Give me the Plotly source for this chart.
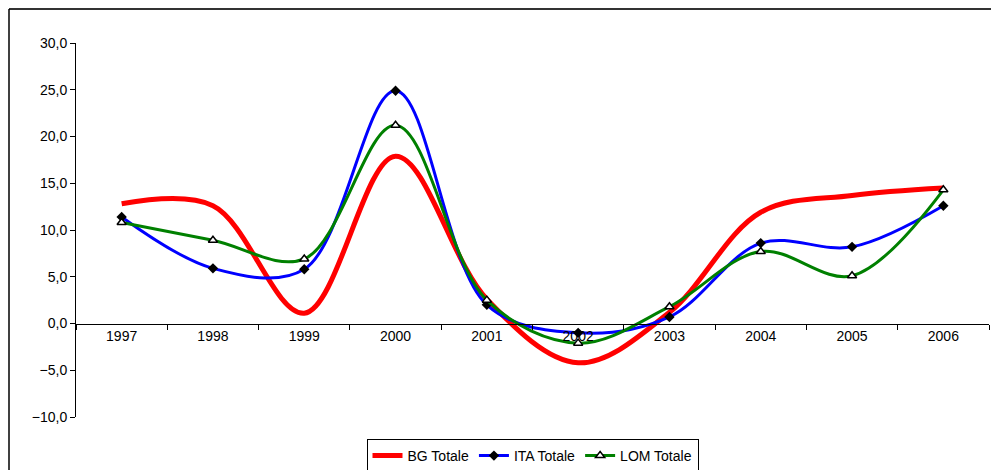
import plotly.graph_objects as go

years = ["1997", "1998", "1999", "2000", "2001", "2002", "2003", "2004", "2005", "2006"]
bg_totale = [12.8, 12.6, 1.1, 17.9, 2.6, -4.2, 1.2, 11.9, 13.7, 14.5]
ita_totale = [11.4, 5.9, 5.8, 24.9, 2.0, -1.0, 0.7, 8.6, 8.2, 12.6]
lom_totale = [10.8, 8.9, 6.9, 21.2, 2.5, -2.1, 1.8, 7.7, 5.1, 14.3]
y_ticks = [-10, -5, 0, 5, 10, 15, 20, 25, 30]

font_family = "Liberation Sans, Arial, sans-serif"

fig = go.Figure()
fig.add_trace(go.Scatter(
    x=years, y=bg_totale, name="BG Totale", mode="lines",
    line=dict(color="#ff0000", width=5, shape="spline", smoothing=1.0),
))
fig.add_trace(go.Scatter(
    x=years, y=ita_totale, name="ITA Totale", mode="lines+markers",
    line=dict(color="#0000ff", width=3, shape="spline", smoothing=1.0),
    marker=dict(symbol="diamond", size=8, color="#000000"),
))
fig.add_trace(go.Scatter(
    x=years, y=lom_totale, name="LOM Totale", mode="lines+markers",
    line=dict(color="#008000", width=3, shape="spline", smoothing=1.0),
    marker=dict(symbol="triangle-up", size=8, color="#ffffff",
                line=dict(color="#000000", width=1.5)),
))

# figure is drawn with an 8px page offset, so size it to the remaining window
W, H = 991, 462
L, R, T, B = 68, 10, 35, 53
pw, ph = W - L - R, H - T - B

ymin, ymax = -10, 30
fig.update_layout(
    width=W, height=H,
    margin=dict(l=L, r=R, t=T, b=B, autoexpand=False),
    paper_bgcolor="white", plot_bgcolor="white",
    separators=",.",
    font=dict(family=font_family, size=14, color="#000000"),
    showlegend=True,
    legend=dict(
        orientation="h", x=0.5, xanchor="center", y=-22 / ph, yanchor="top",
        bordercolor="#000000", borderwidth=1, bgcolor="white",
        font=dict(family=font_family, size=14, color="#000000"),
        itemwidth=30, tracegroupgap=0,
    ),
    xaxis=dict(
        type="category", range=[-0.5, 9.5],
        tickson="boundaries", ticks="outside", ticklen=5, tickcolor="#000000",
        showline=True, linecolor="#000000", linewidth=1,
        showgrid=False, zeroline=False, automargin=False,
        anchor="free", position=(0 - ymin) / (ymax - ymin),
        tickfont=dict(family=font_family, size=14, color="#000000"),
    ),
    yaxis=dict(
        range=[ymin, ymax], tickvals=y_ticks, tickformat=".1f",
        ticks="outside", ticklen=5, tickcolor="#000000",
        showline=True, linecolor="#000000", linewidth=1,
        showgrid=False, zeroline=False, automargin=False,
        tickfont=dict(family=font_family, size=14, color="#000000"),
    ),
    shapes=[
        dict(type="line", xref="paper", yref="paper",
             x0=-(L - 1) / pw, x1=1.0 + R / pw, y0=1 + (T - 1) / ph, y1=1 + (T - 1) / ph,
             line=dict(color="#333333", width=2)),
        dict(type="line", xref="paper", yref="paper",
             x0=-(L - 1) / pw, x1=-(L - 1) / pw, y0=-B / ph, y1=1 + (T - 1) / ph,
             line=dict(color="#000000", width=1.5)),
    ],
)

fig.write_html("out.html")
